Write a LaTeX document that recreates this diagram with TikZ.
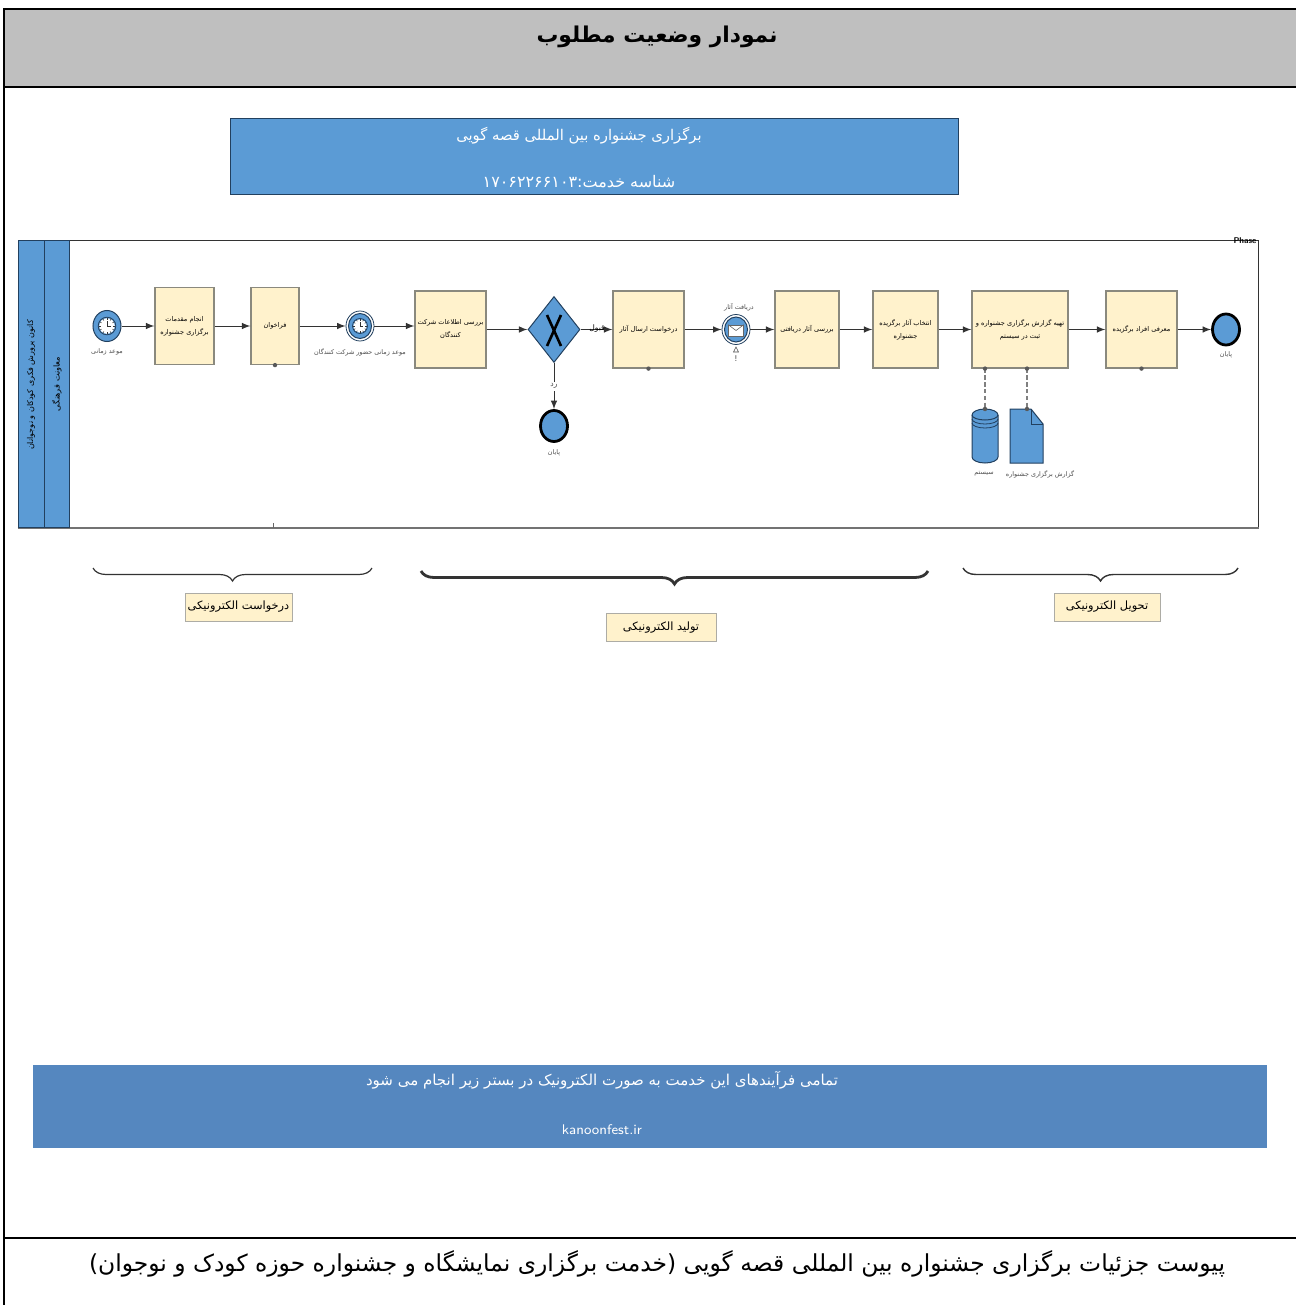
\documentclass[tikz,border=0pt]{standalone}
\usepackage{fontspec}
\usetikzlibrary{positioning,shapes.geometric,decorations.pathreplacing}
\newfontfamily\arabicfont[Script=Arabic]{DejaVu Sans}
\TeXXeTstate=1
\definecolor{bandblue}{HTML}{5B9BD5}
\definecolor{edgeblue}{HTML}{22405F}
\definecolor{footblue}{HTML}{5587BF}
\definecolor{taskfill}{HTML}{FFF2CC}
\definecolor{taskedge}{HTML}{8A897E}
\definecolor{headgray}{HTML}{BFBFBF}
\newcommand{\fa}[1]{\beginR #1\endR}
\tikzstyle{task} = [rectangle, minimum height=38.5pt, inner sep=0pt, align=center, draw=taskedge, fill=taskfill, line width=0.6pt, font=\arabicfont\fontsize{3.3}{6.5}\selectfont]
\tikzstyle{tag} = [rectangle, minimum height=14pt, inner sep=0pt, draw=taskedge!70, fill=taskfill, line width=0.5pt, font=\arabicfont\fontsize{5.7}{7}\selectfont]
\tikzstyle{lane} = [rectangle, inner sep=0pt, draw=edgeblue, fill=bandblue, line width=0.5pt, minimum height=143.5pt]
\tikzstyle{evcap} = [inner sep=0pt, text=black!70, font=\arabicfont\fontsize{3.2}{5}\selectfont]
\tikzstyle{startev} = [ellipse, inner sep=0pt, minimum width=14pt, minimum height=15.5pt, fill=bandblue, draw=edgeblue, line width=0.5pt]
\tikzstyle{midev} = [ellipse, inner sep=0pt, minimum width=14pt, minimum height=15pt, fill=white, draw=edgeblue, line width=0.4pt]
\tikzstyle{endev} = [ellipse, inner sep=0pt, minimum width=13.5pt, minimum height=15.5pt, fill=bandblue, draw=black, line width=1.4pt]
\tikzstyle{flow} = [-latex, draw=black!80, line width=0.5pt]
\tikzstyle{assoc} = [dash pattern=on 2.2pt off 1.2pt, draw=black!50, line width=0.6pt]
\tikzstyle{dot} = [circle, inner sep=0pt, minimum size=2.2pt, fill=black!65]
\tikzstyle{curly} = [decorate, decoration={brace, mirror, amplitude=6.5pt, aspect=0.5}, draw=black!80]
\tikzset{clockface/.pic={
  \fill[white] (0,0) circle (3.9pt);
  \draw[edgeblue, line width=0.4pt] (0,0) circle (4.4pt);
  \foreach \a in {0,30,...,330} \draw[black!80, line width=0.3pt] (\a:6.4) -- (\a:8);
  \draw[black!80, line width=0.5pt] (0,-5) -- (0,0) -- (4,0);
}}
\begin{document}
\begin{tikzpicture}[x=0.5pt, y=-0.5pt]
\useasboundingbox (0,0) rectangle (1296,1305);

\fill[headgray] (4,9) rectangle (1296,87);
\draw[line width=1pt] (1296,9) -- (4,9) -- (4,1305);
\draw[line width=0.8pt] (4,87) -- (1296,87);
\draw[line width=0.6pt] (4,1238) -- (1296,1238);
\node (title) at (657,37) {\arabicfont\bfseries\fontsize{10.9}{14}\selectfont\fa{نمودار وضعیت مطلوب}};

\node (idbox) [rectangle, inner sep=0pt, minimum width=364pt, minimum height=38pt, fill=bandblue, draw=edgeblue, line width=0.5pt] at (594,157) {};
\node (idname) [text=white, font=\arabicfont\fontsize{7.4}{10}\selectfont] at (579,136) {\fa{برگزاری جشنواره بین المللی قصه گویی}};
\node (idcode) [text=white, font=\arabicfont\fontsize{8}{10}\selectfont] at (579,182) {\fa{شناسه خدمت:\beginL ۱۷۰۶۲۲۶۶۱۰۳\endL}};

\node (pool) [rectangle, inner sep=0pt, minimum width=620pt, minimum height=143.5pt, draw=black!80, line width=0.5pt] at (638,384) {};
\draw[black!55, line width=0.9pt] (pool.south west) -- (pool.south east);
\node (phase) [inner sep=0pt, font=\sffamily\bfseries\fontsize{4.2}{5}\selectfont] at (1245,241) {Phase};
\node (org) [lane, minimum width=13pt] at (31,384) {};
\node (unit) [lane, minimum width=12.5pt] at (56.5,384) {};
\node (orgtext) [rotate=90, inner sep=0pt, font=\arabicfont\fontsize{4}{5}\selectfont] at (31,385) {\fa{کانون پرورش فکری کودکان و نوجوانان}};
\node (unittext) [rotate=90, inner sep=0pt, font=\arabicfont\fontsize{4.1}{5}\selectfont] at (57,384) {\fa{معاونت فرهنگی}};
\draw[black!60, line width=0.4pt] (273,523) -- (273,528);

\node (start) [startev] at (107,326) {};
\pic at (start) {clockface};
\node (task1) [task, minimum width=29.5pt] at (184.5,326) {\fa{انجام مقدمات}\\\fa{برگزاری جشنواره}};
\node (task2) [task, minimum width=24pt] at (275,326) {\fa{فراخوان}};
\node (timer) [midev] at (360,326) {};
\node (timerin) [startev, minimum width=11.5pt, minimum height=12.5pt] at (360,326) {};
\pic[scale=0.85] at (timer) {clockface};
\node (task3) [task, minimum width=35.5pt] at (450.5,329.5) {\fa{بررسی اطلاعات شرکت}\\\fa{کنندگان}};
\node (gateway) [diamond, inner sep=0pt, minimum width=26pt, minimum height=33pt, fill=bandblue, draw=edgeblue, line width=0.5pt] at (554,329.5) {};
\draw[line width=1.3pt] (547,315) -- (561,346);
\draw[line width=1.3pt] (561,315) -- (547,346);
\node (task4) [task, minimum width=35.5pt] at (648.5,329.5) {\fa{درخواست ارسال آثار}};
\node (msg) [midev] at (736,329.5) {};
\node (msgin) [startev, minimum width=11.5pt, minimum height=12.5pt] at (736,329.5) {};
\node (letter) [rectangle, inner sep=0pt, minimum width=7.5pt, minimum height=5.5pt, fill=white, draw=black!60, line width=0.3pt] at (736,330.5) {};
\draw[black!60, line width=0.3pt] (letter.north west) -- (letter.center) -- (letter.north east);
\node (task5) [task, minimum width=32pt] at (807,329.5) {\fa{بررسی آثار دریافتی}};
\node (task6) [task, minimum width=32.5pt] at (905.5,329.5) {\fa{انتخاب آثار برگزیده}\\\fa{جشنواره}};
\node (task7) [task, minimum width=48pt] at (1020,329.5) {\fa{تهیه گزارش برگزاری جشنواره و}\\\fa{ثبت در سیستم}};
\node (task8) [task, minimum width=35.5pt] at (1141.5,329.5) {\fa{معرفی افراد برگزیده}};
\node (stop) [endev] at (1226,329.5) {};
\node (reject) [endev] at (554,426) {};

\node [dot] at (task2.south) {};
\node [dot] at (task4.south) {};
\node [dot] at (task8.south) {};

\node (startcap) [evcap] at (107,352) {\fa{موعد زمانی}};
\node (timercap) [evcap] at (360,352) {\fa{موعد زمانی حضور شرکت کنندگان}};
\node (msgcap) [evcap] at (739,307) {\fa{دریافت آثار}};
\draw[black!70, line width=0.3pt] (733.5,352) -- (736,347) -- (738.5,352) -- cycle;
\node (msgbang) [evcap, font=\arabicfont\fontsize{4}{5}\selectfont] at (736,359) {!};
\node (stopcap) [evcap] at (1226,355) {\fa{پایان}};
\node (rejectcap) [evcap] at (554,453) {\fa{پایان}};

\draw[flow] (start) -- (task1);
\draw[flow] (task1) -- (task2);
\draw[flow] (task2) -- (timer);
\draw[flow] (timer) -- (timer -| task3.west);
\draw[flow] (task3) -- (gateway);
\draw[flow] (gateway) -- (task4);
\draw[flow] (task4) -- (msg);
\draw[flow] (msg) -- (task5);
\draw[flow] (task5) -- (task6);
\draw[flow] (task6) -- (task7);
\draw[flow] (task7) -- (task8);
\draw[flow] (task8) -- (stop);
\draw[flow] (gateway) -- node [evcap, fill=white, inner ysep=1pt, font=\arabicfont\fontsize{3.8}{5}\selectfont] {\fa{رد}} (reject);
\node (accept) [evcap, text=black, font=\arabicfont\fontsize{3.8}{5}\selectfont] at (597,329) {\fa{قبول}};

\draw[fill=bandblue, draw=edgeblue, line width=0.5pt] (972,415) -- (972,457) arc (180:0:13 and 6) -- (998,415) arc (0:-180:13 and 6) -- cycle;
\draw[edgeblue, line width=0.5pt] (972,415) arc (180:0:13 and 5);
\draw[edgeblue, line width=0.4pt] (972,419) arc (180:0:13 and 5);
\draw[edgeblue, line width=0.4pt] (972,423) arc (180:0:13 and 5);
\draw[fill=bandblue, draw=edgeblue, line width=0.5pt] (1010,409) -- (1031,409) -- (1043,424) -- (1043,463) -- (1010,463) -- cycle;
\draw[edgeblue, line width=0.5pt] (1031,409) -- (1031,424) -- (1043,424);
\coordinate (dbtop) at (985,409);
\coordinate (doctop) at (1027,409);
\draw[assoc] (dbtop |- task7.south) -- (dbtop);
\draw[assoc] (doctop |- task7.south) -- (doctop);
\node [dot] at (dbtop |- task7.south) {};
\node [dot] at (doctop |- task7.south) {};
\node [dot] at (dbtop) {};
\node [dot] at (doctop) {};
\node (dbcap) [evcap] at (984,474) {\fa{سیستم}};
\node (doccap) [evcap] at (1040,474) {\fa{گزارش برگزاری جشنواره}};

\draw[curly, line width=0.6pt] (93,568) -- (372,568);
\draw[curly, line width=1.4pt] (421,571) -- (928,571);
\draw[curly, line width=0.7pt] (963,568) -- (1238,568);
\node (ask) [tag, minimum width=53.5pt] at (238.5,607) {\fa{درخواست الکترونیکی}};
\node (make) [tag, minimum width=55pt] at (661,627.5) {\fa{تولید الکترونیکی}};
\node (give) [tag, minimum width=53pt] at (1107,607) {\fa{تحویل الکترونیکی}};

\node (footbox) [rectangle, inner sep=0pt, minimum width=617pt, minimum height=41.5pt, fill=footblue] at (650,1106.5) {};
\node (foottext) [text=white, font=\arabicfont\fontsize{7.5}{9}\selectfont] at (602,1080) {\fa{تمامی فرآیندهای این خدمت به صورت الکترونیک در بستر زیر انجام می شود}};
\node (footlink) [text=white, font=\sffamily\fontsize{7}{9}\selectfont] at (602,1130) {kanoonfest.ir};
\node (attach) [font=\arabicfont\fontsize{11.7}{14}\selectfont] at (657,1264) {\fa{پیوست جزئیات برگزاری جشنواره بین المللی قصه گویی (خدمت برگزاری نمایشگاه و جشنواره حوزه کودک و نوجوان)}};
\end{tikzpicture}
\end{document}
